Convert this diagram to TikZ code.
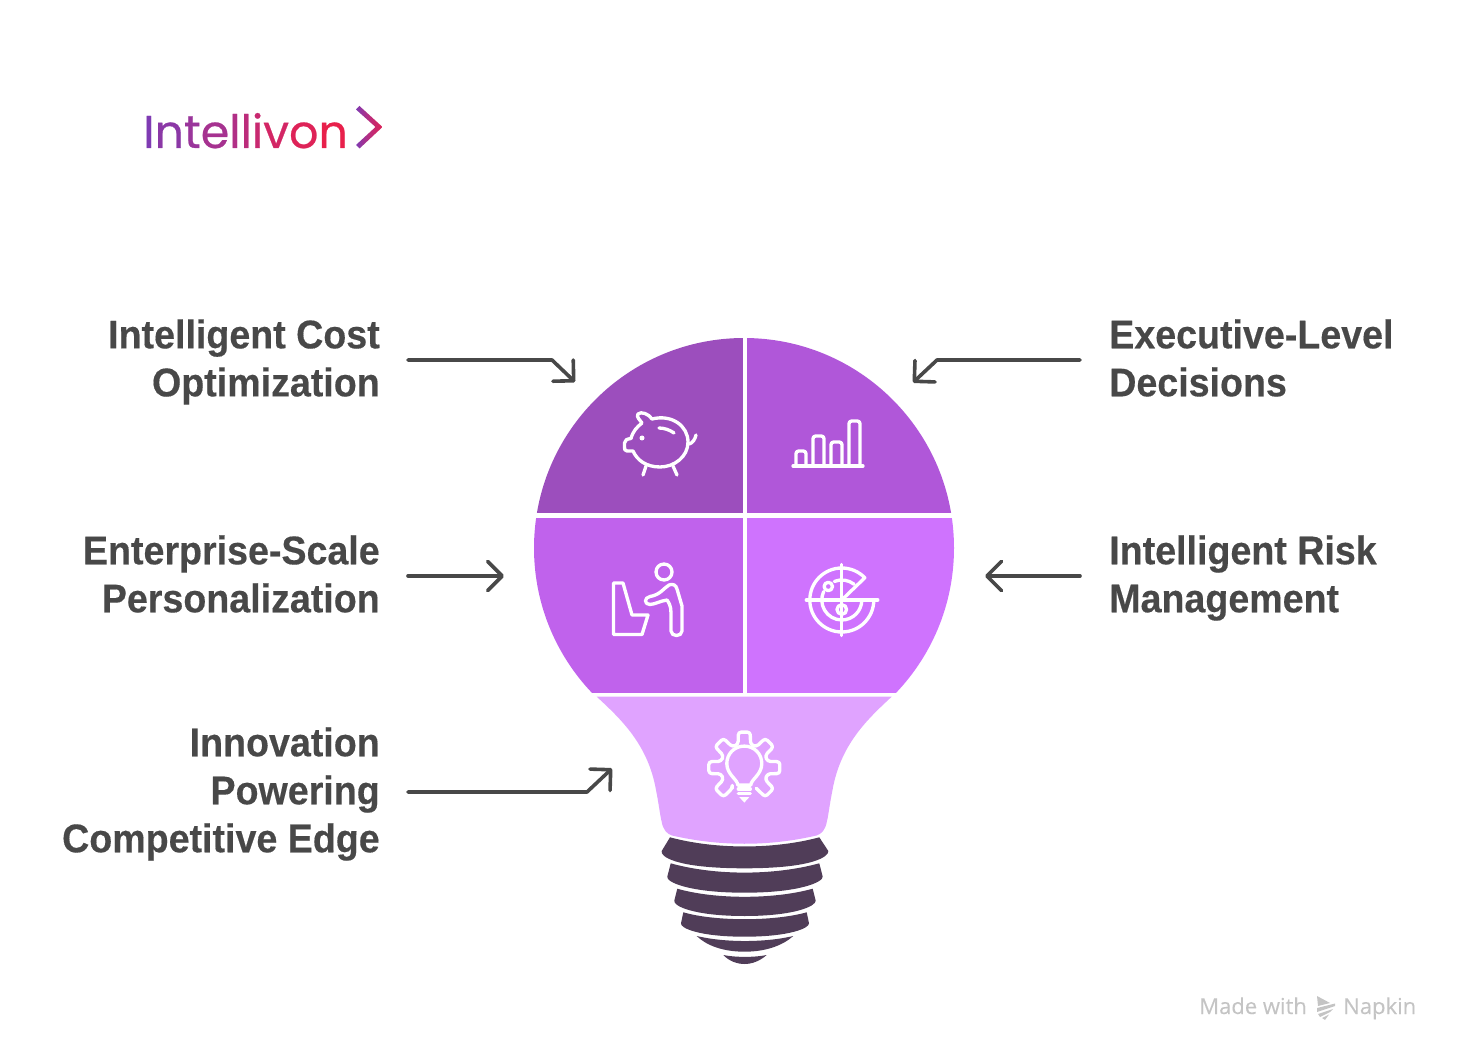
\documentclass[tikz,border=0pt]{standalone}
\usepackage{fontspec}
\usetikzlibrary{arrows.meta,calc}
\setmainfont{Liberation Sans}
\newfontfamily\lab[FakeStretch=0.94,BoldFeatures={FakeStretch=0.94,FakeBold=0.35}]{Liberation Sans}
\newfontfamily\logofont[FakeBold=0.5]{Poppins}
\newfontfamily\wmfont[FakeBold=0.2]{Open Sans}
\definecolor{txt}{HTML}{484848}
\definecolor{qa}{HTML}{9C4EBD}
\definecolor{qb}{HTML}{B057D9}
\definecolor{qc}{HTML}{C062EC}
\definecolor{qd}{HTML}{CF73FE}
\definecolor{qe}{HTML}{E0A3FF}
\definecolor{dk}{HTML}{503D58}
\definecolor{wm}{HTML}{C4C4C4}
\definecolor{la}{HTML}{7F3BB3}\definecolor{lb}{HTML}{8B38A6}\definecolor{lc}{HTML}{9A359B}
\definecolor{ld}{HTML}{A63290}\definecolor{le}{HTML}{B12F86}\definecolor{lf}{HTML}{BC2C7B}
\definecolor{lg}{HTML}{C82970}\definecolor{lh}{HTML}{D32665}\definecolor{li}{HTML}{DE2358}\definecolor{lj}{HTML}{E8204B}
\tikzset{
 lbl/.style={font=\lab\bfseries\fontsize{30}{36}\selectfont,text=txt,inner sep=0pt},
 lbll/.style={lbl,anchor=east,align=right},
 lblr/.style={lbl,anchor=west,align=left},
 conn/.style={draw=txt,line width=2.7pt,line join=round,line cap=round,-{Straight Barb[length=11pt,width=22pt,line width=2.7pt,round]}},
 ico/.style={draw=white,line width=2.5pt,line cap=round,line join=round},
 thread/.style={fill=dk,draw=none}
}
\begin{document}
\begin{tikzpicture}[x=0.75pt,y=-0.75pt]
\useasboundingbox (0,0) rectangle (1464,1062);
% bulb quadrants
\begin{scope}
\clip (744,548) circle[radius=210];
\fill[qa] (500,330) rectangle (742.6,513.4);
\fill[qb] (746.6,330) rectangle (960,513.4);
\fill[qc] (500,517.6) rectangle (742.6,692.7);
\fill[qd] (746.6,517.6) rectangle (960,692.7);
\end{scope}
% neck
\fill[qe] (596.7,696.7) .. controls (622,720) and (648,745) .. (656,790)
 .. controls (659,805) and (660,815) .. (661.5,821)
 .. controls (663,830) and (667,834) .. (672,835.5)
 .. controls (720,846.5) and (769,846.5) .. (816.5,835.5)
 .. controls (821.5,834) and (825.5,830) .. (827,821)
 .. controls (828.5,815) and (829.5,805) .. (832.5,790)
 .. controls (840.5,745) and (866.5,720) .. (891.7,696.7) -- cycle;
% threads
\fill[thread] (670,837.3) .. controls (715,849.5) and (774,849.5) .. (819.3,837.3)
 -- (828.3,851) .. controls (829,856) and (815,868.3) .. (744.5,868.3)
 .. controls (674,868.3) and (660,856) .. (661.7,851) -- cycle;
\fill[thread] (670.7,863.3) .. controls (715,875.7) and (774,875.7) .. (819.3,863.3)
 -- (822.7,876.7) .. controls (823,882) and (800,892.7) .. (744.5,892.7)
 .. controls (689,892.7) and (666,882) .. (667.3,876.7) -- cycle;
\fill[thread] (677.3,888.7) .. controls (715,899.5) and (774,899.5) .. (812.7,888.7)
 -- (815.7,900.7) .. controls (816,906) and (795,916) .. (744.5,916)
 .. controls (694,916) and (673,906) .. (674.3,900.7) -- cycle;
\fill[thread] (683.3,912.3) .. controls (715,921.5) and (774,921.5) .. (806.7,912.3)
 -- (809,923.3) .. controls (809.5,928) and (790,936.7) .. (744.5,936.7)
 .. controls (699,936.7) and (680,928) .. (681,923.3) -- cycle;
\fill[thread] (696.7,936) .. controls (725,942.7) and (765,942.7) .. (793.3,936)
 .. controls (782,946) and (765,951.7) .. (744.5,951.7)
 .. controls (724,951.7) and (707,946) .. (696.7,936) -- cycle;
\fill[thread] (723.3,955) .. controls (735,957.5) and (755,957.5) .. (766.7,955)
 .. controls (760,961) and (752,964) .. (744.5,964)
 .. controls (737,964) and (729,961) .. (723.3,955) -- cycle;
% piggy icon
\draw[ico] (638,414) .. controls (641,411) and (649,414) .. (652,419)
 .. controls (672,414) and (688,426) .. (688,442)
 .. controls (688,457) and (674,467) .. (660,467)
 .. controls (646,467) and (637,460) .. (633,451)
 -- (627,451) .. controls (624.5,451) and (624.5,449) .. (624.5,447) -- (624.5,443)
 .. controls (624.5,440) and (627,439) .. (631,438.5)
 .. controls (633,431) and (637,427) .. (642,423)
 .. controls (640,420) and (636,417) .. (638,414) -- cycle;
\draw[ico] (689,444) .. controls (693,443) and (695,439) .. (696,435);
\draw[ico] (646,466) -- (643,475);
\draw[ico] (673,466) -- (677,475);
\draw[ico] (659,428) .. controls (664,428) and (670,430) .. (674,433);
\fill[white] (642,438) circle[radius=2.5];
% bars icon
\draw[ico] (793,466) -- (863,466);
\draw[ico,rounded corners=2pt] (796,466) -- (796,451) -- (806,451) -- (806,466);
\draw[ico,rounded corners=2pt] (813,466) -- (813,436) -- (824,436) -- (824,466);
\draw[ico,rounded corners=2pt] (831,466) -- (831,442) -- (842,442) -- (842,466);
\draw[ico,rounded corners=2pt] (849,466) -- (849,421) -- (860,421) -- (860,466);
% person icon
\draw[ico] (664,572) circle[radius=8];
\draw[ico] (613.5,583) -- (623,583) -- (632,615) -- (648,615) -- (642,634.5) -- (613.5,634.5) -- cycle;
\draw[ico] (650,596.5) .. controls (660,595) and (664,588) .. (669,585)
 .. controls (673,583.5) and (676,585) .. (677,589)
 -- (682,606) -- (682,631) .. controls (682,637) and (671,637) .. (671,631)
 -- (671,613) .. controls (671,606) and (669,603) .. (667,600)
 .. controls (660,601) and (656,604) .. (650,604.5)
 .. controls (644,604.5) and (644,597.5) .. (650,596.5) -- cycle;
% radar icon
\begin{scope}[shift={(841.8,600)}]
\draw[ico] (-35.5,0) -- (36,0);
\draw[ico] (0,-35.5) -- (0,35.5);
\draw[ico] (0:32) arc[start angle=0,end angle=316,radius=32] -- (2,-2);
\draw[ico] (0:20) arc[start angle=0,end angle=205,radius=20];
\draw[ico] (248:20) arc[start angle=248,end angle=308,radius=20];
\draw[ico] (0,9.5) circle[radius=4.8];
\draw[ico] (-13.5,-13.5) circle[radius=4.2];
\end{scope}
% gear icon
\begin{scope}[shift={(744.3,767.6)}]
\draw[ico,rounded corners=2.2pt] (120:24)
 \foreach \a in {135,180,225,270,315,360,405}{
  -- ({\a-15}:24) -- ({\a-9.5}:36) -- ({\a+9.5}:36) -- ({\a+15}:24)};
\draw[ico] (-6.5,17.5) .. controls (-6.5,12) and (-17.5,7) .. (-17.5,-4)
 .. controls (-17.5,-14) and (-9.7,-21.5) .. (0,-21.5)
 .. controls (9.7,-21.5) and (17.5,-14) .. (17.5,-4)
 .. controls (17.5,7) and (6.5,12) .. (6.5,17.5) -- cycle;
\draw[ico] (-6,21.5) -- (6,21.5);
\draw[ico] (-6,26) -- (6,26);
\fill[white] (-5,29.5) -- (5,29.5) -- (0,35) -- cycle;
\end{scope}
% labels
\node[lbll] (t1) at (380,362) {Intelligent Cost\\Optimization};
\node[lbll] (t2) at (380,574) {Enterprise-Scale\\Personalization};
\node[lbll] (t3) at (380,794) {Innovation\\Powering\\Competitive Edge};
\node[lblr] (t4) at (1109,358) {Executive-Level\\Decisions};
\node[lblr] (t5) at (1109,578) {Intelligent Risk\\Management};
% connector coordinates
\coordinate (s1) at (408,360); \coordinate (c1) at (552,360); \coordinate (e1) at (575,382);
\coordinate (s2) at (408,576); \coordinate (e2) at (504,576);
\coordinate (s3) at (408,792); \coordinate (c3) at (587,792); \coordinate (e3) at (612,768.5);
\coordinate (s4) at (1080,360); \coordinate (c4) at (937,360); \coordinate (e4) at (913,382.5);
\coordinate (s5) at (1080,576); \coordinate (e5) at (985,576);
\draw[conn] (s1) -- (c1) -- (e1);
\draw[conn] (s2) -- (e2);
\draw[conn] (s3) -- (c3) -- (e3);
\draw[conn] (s4) -- (c4) -- (e4);
\draw[conn] (s5) -- (e5);
% logo
\node[anchor=base west,inner sep=0pt,font=\logofont\fontsize{34.5}{40}\selectfont] (logo) at (143,148)
 {\textcolor{la}{I}\textcolor{lb}{n}\textcolor{lc}{t}\textcolor{ld}{e}\textcolor{le}{l}\textcolor{lf}{l}\textcolor{lg}{i}\textcolor{lh}{v}\textcolor{li}{o}\textcolor{lj}{n}};
\shade[left color=la,right color=lj!90!la,middle color=lh!70!la] (356,109.5) -- (359.5,106) -- (382.5,127) -- (359.5,148.5) -- (356,145) -- (375.5,127) -- cycle;
% watermark
\node[anchor=base west,inner sep=0pt,text=wm,font=\wmfont\fontsize{16.5}{20}\selectfont] (wm1) at (1199,1014) {Made with};
\node[anchor=base west,inner sep=0pt,text=wm,font=\wmfont\fontsize{16.5}{20}\selectfont] (wm2) at (1343,1014) {Napkin};
\fill[wm] (1317,996) -- (1330,1003) -- (1318,1006) -- cycle;
\fill[wm] (1317,1008) -- (1335,1003.5) -- (1335,1006) -- (1317,1012) -- cycle;
\fill[wm] (1318,1014) -- (1333,1009) -- (1330,1012) -- (1320,1017) -- cycle;
\fill[wm] (1322,1018) -- (1329,1014.5) -- (1325,1020) -- cycle;
\end{tikzpicture}
\end{document}
